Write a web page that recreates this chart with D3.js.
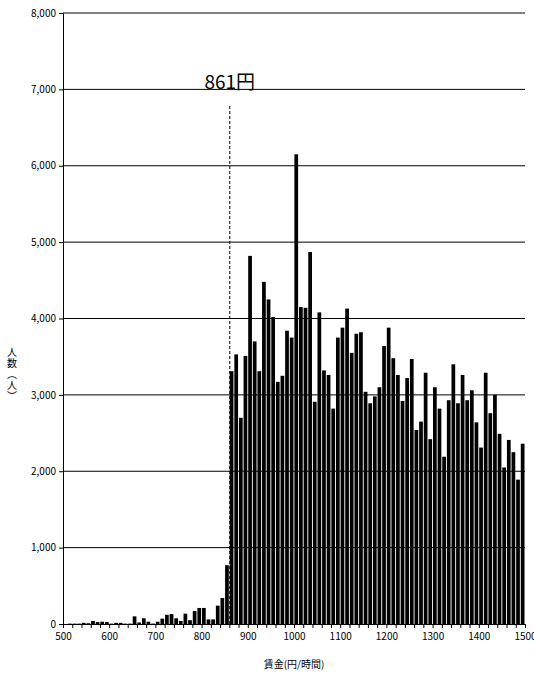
<!DOCTYPE html>
<html><head><meta charset="utf-8">
<script src="https://cdn.jsdelivr.net/npm/d3@7"></script>
<style>body{margin:0;background:#fff}text{font-family:"Noto Sans CJK JP",sans-serif}</style>
</head><body><svg id="c" width="534" height="680"></svg>
<script>
// wage bins (lower bound, yen/hour), step 10
const wages = d3.range(500, 1500, 10);
const counts = [0,5,5,5,15,10,40,25,30,25,5,15,15,5,5,100,20,75,30,5,
  30,70,120,130,75,40,135,50,170,210,210,60,60,240,340,770,
  3310,3530,2700,3510,4820,3700,3310,4480,4250,4020,3170,3250,3840,3750,
  6150,4150,4140,4870,2910,4080,3320,3260,2820,3750,3880,4130,3550,3800,3820,3040,
  2890,2980,3100,3640,3880,3480,3260,2920,3220,3470,2540,2650,3290,2420,
  3100,2820,2190,2930,3400,2890,3260,2930,3060,2640,2310,3290,2760,3000,2490,2050,
  2410,2250,1890,2360];
const minWage = 861;
const yTicks = d3.range(0, 8001, 1000);

const svg = d3.select("#c");
const x = d3.scaleLinear().domain([500, 1500]).range([63, 525]);
const y = d3.scaleLinear().domain([0, 8000]).range([624, 13]);

svg.append("g").selectAll("line").data(yTicks.slice(1)).join("line")
  .attr("x1", 63).attr("x2", 525).attr("y1", d => y(d)).attr("y2", d => y(d))
  .attr("stroke", "#000").attr("stroke-width", 1);

svg.append("g").selectAll("rect").data(wages).join("rect")
  .attr("x", (d) => x(d) + 0.4)
  .attr("width", x(510) - x(500) - 0.9)
  .attr("y", (d, i) => y(counts[i]))
  .attr("height", (d, i) => y(0) - y(counts[i]))
  .attr("fill", "#000");

const ya = svg.append("g").attr("transform", "translate(63,0)")
  .call(d3.axisLeft(y).tickValues(yTicks).tickFormat(d3.format(",")).tickSize(4));
ya.selectAll("text").style("font-size", "10px").style("font-family", "Noto Sans CJK JP");
const xa = svg.append("g").attr("transform", "translate(0,624)")
  .call(d3.axisBottom(x).tickValues(d3.range(500, 1501, 20)).tickSize(4)
    .tickFormat(d => d % 100 === 0 ? d : ""));
xa.selectAll("text").style("font-size", "10px").style("font-family", "Noto Sans CJK JP").attr("dy", "0.9em");
svg.selectAll(".domain").attr("stroke", "#000");

svg.append("line").attr("x1", x(minWage)).attr("x2", x(minWage))
  .attr("y1", 106).attr("y2", 624).attr("stroke", "#000").attr("stroke-dasharray", "3,2");
svg.append("text").attr("x", x(minWage)).attr("y", 89).attr("text-anchor", "middle")
  .style("font-size", "19px").text(minWage + "円");

svg.append("text").attr("x", 294).attr("y", 668).attr("text-anchor", "middle")
  .style("font-size", "10px").text("賃金(円/時間)");
const yl = ["人", "数", "︵", "人", "︶"];
svg.append("g").selectAll("text").data(yl).join("text")
  .attr("x", 12).attr("y", (d, i) => 356 + i * 11).attr("text-anchor", "middle")
  .style("font-size", "10px").text(d => d);
</script></body></html>
